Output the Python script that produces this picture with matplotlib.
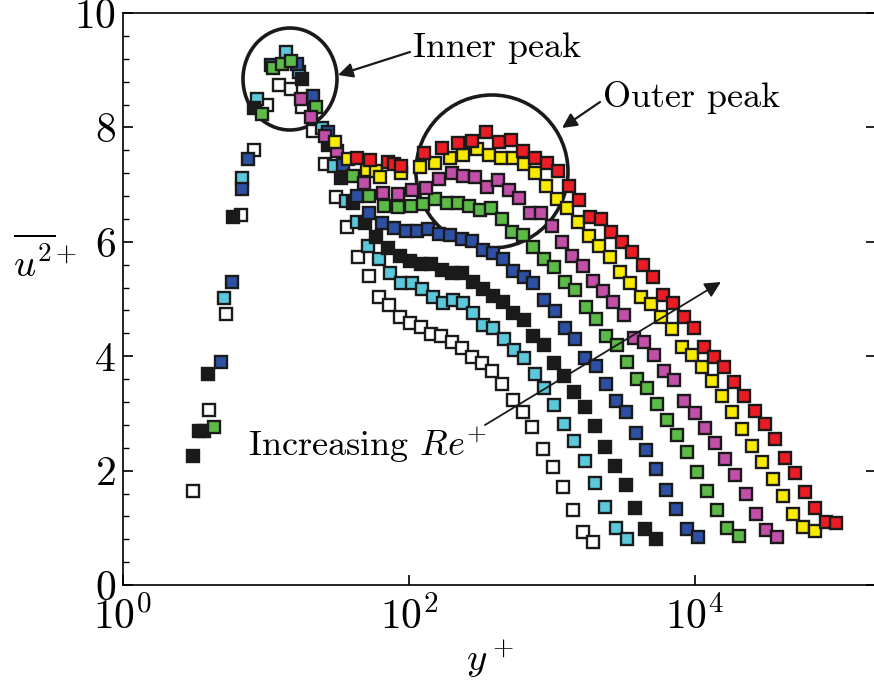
import numpy as np
import matplotlib
matplotlib.use("Agg")
import matplotlib.pyplot as plt
from matplotlib.patches import Ellipse
from matplotlib.ticker import FixedLocator, MultipleLocator, LogFormatterSciNotation

plt.rcParams['font.family'] = 'serif'
plt.rcParams['font.serif'] = ['cmr10']
plt.rcParams['mathtext.fontset'] = 'cm'
plt.rcParams['axes.formatter.use_mathtext'] = True
plt.rcParams['axes.unicode_minus'] = False


#%% streamwise variance profiles, one per Re

yp_white = [3.09, 3.99, 5.25, 6.69, 8.24, 10.2, 12.3, 15.0, 17.9, 21.3, 25.9, 30.9, 36.9,
            44.0, 52.5, 61.7, 72.5, 86.5, 102, 121, 143, 167, 200, 235, 276, 324, 381,
            447, 534, 627, 725, 865, 1016, 1194, 1402, 1647, 1935]
uu_white = [1.64, 3.06, 4.74, 6.47, 7.60, 8.39, 8.74, 8.67, 8.36, 7.94, 7.36, 6.78, 6.26,
            5.73, 5.40, 5.03, 4.90, 4.69, 4.58, 4.51, 4.39, 4.35, 4.25, 4.14, 3.99, 3.88, 3.74,
            3.51, 3.23, 3.02, 2.76, 2.38, 2.06, 1.71, 1.31, 0.93, 0.75]

yp_cyan = [5.09, 6.79, 8.65, 13.8, 17.0, 24.6, 29.9, 36.3, 43.3, 51.7, 61.7, 73.6, 87.9,
           105, 123, 147, 173, 203, 239, 280, 329, 387, 462, 542, 637, 761, 879, 1033,
           1213, 1425, 1701, 1999, 2348, 2803, 3346]
uu_cyan = [5.02, 7.12, 8.50, 9.32, 8.97, 7.99, 7.33, 6.71, 6.35, 5.93, 5.70, 5.45, 5.28,
           5.28, 5.17, 5.03, 4.93, 4.98, 4.93, 4.76, 4.55, 4.49, 4.30, 4.11, 3.97, 3.69, 3.44, 3.15,
           2.81, 2.52, 2.17, 1.78, 1.36, 1.00, 0.80]

yp_black = [3.09, 3.40, 3.69, 3.93, 5.88, 8.24, 17.9, 27.1, 33.5, 40.6, 49.2, 58.8, 71.3,
            86.5, 102, 121, 143, 170, 200, 235, 280, 329, 387, 454, 534, 637, 736, 879,
            1033, 1213, 1425, 1701, 1999, 2348, 2758, 3292, 3806, 4471, 5337]
uu_black = [2.26, 2.69, 2.69, 3.69, 6.43, 8.34, 8.85, 7.69, 7.12, 6.68, 6.33, 6.08, 5.89,
            5.75, 5.66, 5.61, 5.61, 5.51, 5.45, 5.45, 5.30, 5.17, 5.05, 4.95, 4.76, 4.63, 4.35, 4.20,
            3.88, 3.65, 3.37, 3.11, 2.78, 2.41, 2.08, 1.75, 1.35, 0.98, 0.80]

yp_blue = [4.85, 5.78, 6.79, 7.48, 10.8, 16.5, 21.3, 27.1, 34.6, 43.3, 52.5, 64.7, 78.5,
           95.3, 114, 136, 162, 194, 235, 276, 329, 387, 454, 534, 637, 736, 879, 1050,
           1233, 1448, 1701, 2031, 2386, 2803, 3292, 3867, 4543, 5337, 6269, 7364, 8791, 10500]
uu_blue = [3.90, 5.30, 6.92, 7.45, 9.09, 9.11, 8.55, 7.92, 7.34, 6.80, 6.50, 6.33, 6.24,
           6.19, 6.19, 6.22, 6.14, 6.12, 6.05, 6.01, 5.86, 5.80, 5.70, 5.49, 5.38, 5.28, 4.98, 4.79,
           4.49, 4.30, 3.97, 3.83, 3.51, 3.22, 3.02, 2.66, 2.36, 2.03, 1.66, 1.33, 0.98, 0.84]

yp_green = [4.33, 9.38, 11.2, 12.9, 15.0, 22.4, 40.6, 52.5, 66.9, 83.8, 103, 125, 152,
            184, 220, 263, 314, 374, 447, 525, 627, 736, 879, 1033, 1233, 1448, 1729, 2031,
            2386, 2848, 3346, 3930, 4617, 5423, 6371, 7484, 8791, 10330, 12130, 14250, 16740, 20310]
uu_green = [2.76, 8.23, 9.04, 9.11, 9.16, 8.36, 7.15, 6.80, 6.63, 6.61, 6.63, 6.66, 6.75,
            6.68, 6.68, 6.63, 6.56, 6.59, 6.40, 6.17, 6.12, 5.91, 5.70, 5.56, 5.30, 5.16, 4.86, 4.65,
            4.35, 4.20, 3.90, 3.60, 3.44, 3.16, 2.88, 2.62, 2.33, 1.98, 1.64, 1.31, 1.00, 0.86]

yp_magenta = [17.6, 20.6, 25.9, 31.4, 48.5, 65.8, 83.8, 105, 131, 162, 200, 239, 289,
              351, 419, 500, 588, 702, 838, 1000, 1175, 1380, 1647, 1935, 2273, 2670, 3188, 3745,
              4399, 5168, 6071, 7131, 8377, 10000, 11750, 13800, 16210, 19040, 22730, 26700,
              31370, 37450]
uu_magenta = [8.50, 8.18, 7.85, 7.59, 7.03, 6.85, 6.84, 6.91, 6.94, 7.10, 7.20, 7.15, 7.13,
              6.96, 7.08, 6.91, 6.77, 6.50, 6.50, 6.28, 6.00, 5.75, 5.58, 5.31, 5.14, 4.95, 4.72, 4.32,
              4.25, 4.02, 3.74, 3.58, 3.22, 3.01, 2.74, 2.48, 2.20, 1.92, 1.59, 1.24,
              0.96, 0.84]

yp_yellow = [30.4, 37.4, 50.9, 58.8, 62.7, 87.9, 119, 152, 194, 239, 299, 363, 440,
             534, 637, 761, 908, 1084, 1273, 1520, 1814, 2131, 2545, 2989, 3511, 4192, 4924, 5784,
             6905, 8111, 9528, 11190, 13150, 15450, 18140, 21310, 25040, 29410, 35110, 41250,
             48450, 56920, 69050]
uu_yellow = [7.74, 7.45, 7.26, 7.24, 7.13, 7.20, 7.31, 7.38, 7.47, 7.52, 7.62, 7.52, 7.47,
             7.47, 7.36, 7.20, 6.98, 6.75, 6.59, 6.35, 6.10, 5.93, 5.73, 5.47, 5.28, 5.03, 4.91, 4.69,
             4.48, 4.16, 4.02, 3.81, 3.57, 3.30, 3.02, 2.73, 2.43, 2.15, 1.85, 1.56,
             1.24, 1.01, 0.94]

yp_red = [43.3, 53.4, 71.3, 78.5, 87.9, 127, 170, 220, 276, 346, 426, 517, 627,
          761, 923, 1101, 1315, 1545, 1844, 2201, 2586, 3087, 3626, 4329, 5085, 5974, 7017, 8377,
          9840, 11560, 13580, 15950, 18740, 22010, 26280, 30870, 36260, 42600, 50040, 58780,
          69050, 82430, 96830]
uu_red = [7.47, 7.43, 7.40, 7.36, 7.33, 7.55, 7.64, 7.73, 7.76, 7.92, 7.74, 7.78, 7.59,
          7.47, 7.38, 7.24, 6.98, 6.73, 6.43, 6.40, 6.17, 6.00, 5.82, 5.59, 5.38, 5.07, 4.93, 4.69,
          4.49, 4.16, 3.99, 3.81, 3.55, 3.30, 3.04, 2.81, 2.55, 2.22, 1.96, 1.63,
          1.35, 1.10, 1.08]

profiles = [
    (yp_white, uu_white, 'white'),
    (yp_cyan, uu_cyan, '#5cc8dc'),
    (yp_black, uu_black, '#1a1a1a'),
    (yp_blue, uu_blue, '#2e50a4'),
    (yp_green, uu_green, '#5cbb46'),
    (yp_magenta, uu_magenta, '#c24fa8'),
    (yp_yellow, uu_yellow, '#f8eb00'),
    (yp_red, uu_red, '#ec1c24'),
]


#%% figure

fig = plt.figure(figsize=(8.74, 6.84), dpi=100)
ax = fig.add_axes([0.1407, 0.1447, 0.8616, 0.8363])

for yp, uu, col in profiles:
    ax.plot(yp, uu, linestyle='none', marker='s', markersize=8.5,
            markerfacecolor=col, markeredgecolor='#1a1a1a', markeredgewidth=1.7)

ax.set_xscale('log')
ax.set_xlim(1, 1.844e5)
ax.set_ylim(0, 10)

ax.xaxis.set_major_locator(FixedLocator([1, 1e2, 1e4]))
ax.xaxis.set_major_formatter(LogFormatterSciNotation())
ax.xaxis.set_minor_locator(FixedLocator([]))
ax.yaxis.set_major_locator(MultipleLocator(2))
ax.yaxis.set_minor_locator(MultipleLocator(0.4))

ax.tick_params(which='both', direction='in', labelsize=30, top=False)
ax.tick_params(which='major', length=7, width=1.2, pad=5, right=True)
ax.tick_params(axis='x', which='major', pad=8)
ax.tick_params(which='minor', length=4, width=1.0, right=False)
for sp in ax.spines.values():
    sp.set_linewidth(1.2)

ax.set_xlabel(r'$y^+$', fontsize=28)
ax.xaxis.label.set_va('center')
ax.xaxis.set_label_coords(0.487, -0.128)
ax.set_ylabel(r'$\overline{u^2}^{+}$', fontsize=28, rotation=0, ha='center', va='center')
ax.yaxis.set_label_coords(-0.104, 0.565)

# circles around the two peaks
ax.add_patch(Ellipse((0.2218, 0.8846), 0.1248, 0.1783, transform=ax.transAxes,
                     fill=False, edgecolor='#1a1a1a', linewidth=2.6))
ax.add_patch(Ellipse((0.490, 0.7229), 0.2019, 0.2675, transform=ax.transAxes,
                     fill=False, edgecolor='#1a1a1a', linewidth=2.6))

arrow_kw = dict(arrowstyle='-|>', color='#1a1a1a', lw=1.6, mutation_scale=22,
                shrinkA=0, shrinkB=0)
ax.annotate('', xy=(0.2855, 0.8916), xytext=(0.3811, 0.9318), xycoords='axes fraction',
            arrowprops=arrow_kw)
ax.text(0.385, 0.939, 'Inner peak', transform=ax.transAxes, fontsize=26,
        ha='left', va='center')

ax.annotate('', xy=(0.583, 0.799), xytext=(0.6335, 0.8444), xycoords='axes fraction',
            arrowprops=arrow_kw)
ax.text(0.6375, 0.853, 'Outer peak', transform=ax.transAxes, fontsize=26,
        ha='left', va='center')

ax.annotate('', xy=(0.794, 0.5297), xytext=(0.4807, 0.2797), xycoords='axes fraction',
            arrowprops=dict(arrowstyle='-|>', color='#1a1a1a', lw=1.3, mutation_scale=24,
                            shrinkA=0, shrinkB=0))
ax.text(0.166, 0.245, r'Increasing $Re^{+}$', transform=ax.transAxes, fontsize=26,
        ha='left', va='center')

fig.savefig('out.png', dpi=100)
